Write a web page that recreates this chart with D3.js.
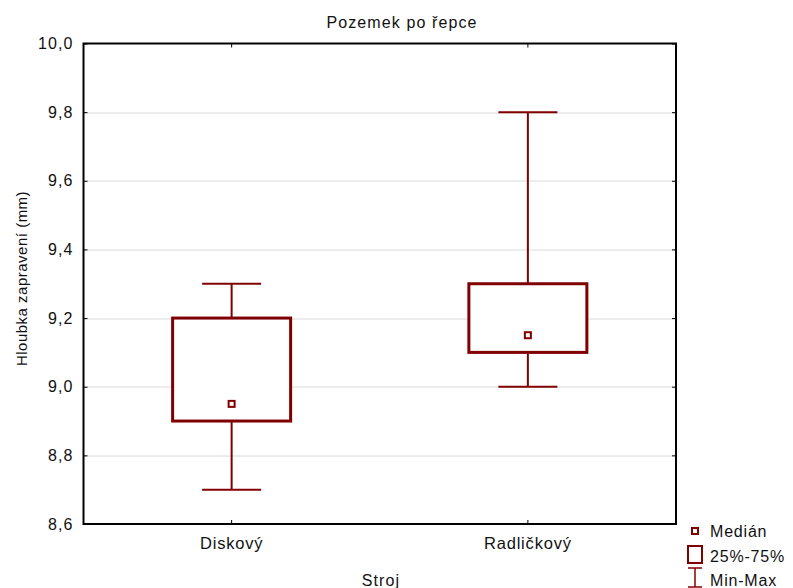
<!DOCTYPE html>
<html>
<head>
<meta charset="utf-8" />
<title>Pozemek po řepce</title>
<script src="https://d3js.org/d3.v7.min.js"></script>
<style>
body { margin: 0; padding: 0; background: #fff; }
svg text { font-family: "Liberation Sans", Arial, sans-serif; fill: #111; }
</style>
</head>
<body>
<div id="chart"></div>
<script>
// data
var categories = ["Diskový", "Radličkový"];
var mins    = [8.7, 9.0];
var q1s     = [8.9, 9.1];
var medians = [8.95, 9.15];
var q3s     = [9.2, 9.3];
var maxs    = [9.3, 9.8];
var yTicks  = [8.6, 8.8, 9.0, 9.2, 9.4, 9.6, 9.8, 10.0];
var legendLabels = ["Medián", "25%-75%", "Min-Max"];

var W = 793, H = 588;
var margin = {top: 43.5, right: 117, bottom: 64, left: 83.5};
var width = W - margin.left - margin.right,
    height = H - margin.top - margin.bottom;
var red = "#800000";

var svg = d3.select("#chart").append("svg")
    .attr("width", W).attr("height", H);

var g = svg.append("g")
    .attr("transform", "translate(" + margin.left + "," + margin.top + ")");

var x = d3.scaleBand().domain(categories).range([0, width]);
var y = d3.scaleLinear().domain([8.6, 10.0]).range([height, 0]);

var fmt = function(d) { return d3.format(".1f")(d).replace(".", ","); };

// grid
g.selectAll(".grid")
  .data(yTicks.slice(1, -1))
  .enter().append("line")
    .attr("x1", 0).attr("x2", width)
    .attr("y1", function(d) { return Math.round(y(d)) + 0.5; })
    .attr("y2", function(d) { return Math.round(y(d)) + 0.5; })
    .attr("stroke", "#dadada").attr("stroke-width", 1);

// axes
var yAxis = g.append("g")
    .call(d3.axisLeft(y).tickValues(yTicks).tickFormat(fmt).tickSizeInner(-4).tickSizeOuter(0).tickPadding(10));
yAxis.select(".domain").remove();
yAxis.selectAll("text").style("font-size", "16px").style("letter-spacing", "1.1px");
yAxis.selectAll("line").attr("stroke", "#000");

var yAxisR = g.append("g").attr("transform", "translate(" + width + ",0)")
    .call(d3.axisRight(y).tickValues(yTicks).tickFormat("").tickSizeInner(-4).tickSizeOuter(0));
yAxisR.select(".domain").remove();

var xAxis = g.append("g").attr("transform", "translate(0," + height + ")")
    .call(d3.axisBottom(x).tickSizeInner(-4).tickSizeOuter(0).tickPadding(13));
xAxis.select(".domain").remove();
xAxis.selectAll("text").style("font-size", "16.5px").style("letter-spacing", "0.8px");

var xAxisT = g.append("g")
    .call(d3.axisTop(x).tickFormat("").tickSizeInner(-4).tickSizeOuter(0));
xAxisT.select(".domain").remove();

// frame
g.append("rect")
    .attr("x", 0).attr("y", 0).attr("width", width).attr("height", height)
    .attr("fill", "none").attr("stroke", "#000").attr("stroke-width", 2);

// boxes
var boxW = 118, capW = 59;
var boxes = g.selectAll(".box")
  .data(categories)
  .enter().append("g")
    .attr("transform", function(d) { return "translate(" + (x(d) + x.bandwidth() / 2) + ",0)"; });

boxes.append("line")
    .attr("x1", 0).attr("x2", 0)
    .attr("y1", function(d, i) { return y(maxs[i]); })
    .attr("y2", function(d, i) { return y(q3s[i]); })
    .attr("stroke", red).attr("stroke-width", 2);
boxes.append("line")
    .attr("x1", 0).attr("x2", 0)
    .attr("y1", function(d, i) { return y(q1s[i]); })
    .attr("y2", function(d, i) { return y(mins[i]); })
    .attr("stroke", red).attr("stroke-width", 2);
boxes.append("line")
    .attr("x1", -capW / 2).attr("x2", capW / 2)
    .attr("y1", function(d, i) { return y(maxs[i]); })
    .attr("y2", function(d, i) { return y(maxs[i]); })
    .attr("stroke", red).attr("stroke-width", 2);
boxes.append("line")
    .attr("x1", -capW / 2).attr("x2", capW / 2)
    .attr("y1", function(d, i) { return y(mins[i]); })
    .attr("y2", function(d, i) { return y(mins[i]); })
    .attr("stroke", red).attr("stroke-width", 2);
boxes.append("rect")
    .attr("x", -boxW / 2).attr("width", boxW)
    .attr("y", function(d, i) { return y(q3s[i]); })
    .attr("height", function(d, i) { return y(q1s[i]) - y(q3s[i]); })
    .attr("fill", "#fff").attr("stroke", red).attr("stroke-width", 3);
boxes.append("rect")
    .attr("x", -3).attr("width", 6)
    .attr("y", function(d, i) { return y(medians[i]) - 3; })
    .attr("height", 6)
    .attr("fill", "#fff").attr("stroke", red).attr("stroke-width", 2);

// title and axis labels
svg.append("text")
    .attr("x", 402).attr("y", 28)
    .attr("text-anchor", "middle").style("font-size", "16px").style("letter-spacing", "1.1px")
    .text("Pozemek po řepce");
svg.append("text")
    .attr("x", 381).attr("y", 586)
    .attr("text-anchor", "middle").style("font-size", "16px").style("letter-spacing", "1.1px")
    .text("Stroj");
svg.append("text")
    .attr("transform", "translate(26.5,278.5) rotate(-90)")
    .attr("text-anchor", "middle").style("font-size", "15px").style("letter-spacing", "0.5px")
    .text("Hloubka zapravení (mm)");

// legend
var leg = svg.append("g").attr("transform", "translate(695,0)");
leg.append("rect").attr("x", -3).attr("y", 528).attr("width", 6).attr("height", 6)
    .attr("fill", "#fff").attr("stroke", red).attr("stroke-width", 2);
leg.append("rect").attr("x", -7).attr("y", 546).attr("width", 14).attr("height", 17)
    .attr("fill", "#fff").attr("stroke", red).attr("stroke-width", 2);
leg.append("line").attr("x1", 0).attr("x2", 0).attr("y1", 568).attr("y2", 587)
    .attr("stroke", red).attr("stroke-width", 1.5);
leg.append("line").attr("x1", -7).attr("x2", 7).attr("y1", 568).attr("y2", 568)
    .attr("stroke", red).attr("stroke-width", 1.5);
leg.append("line").attr("x1", -7).attr("x2", 7).attr("y1", 587).attr("y2", 587)
    .attr("stroke", red).attr("stroke-width", 1.5);
leg.selectAll(".lab")
  .data(legendLabels)
  .enter().append("text")
    .attr("x", 15)
    .attr("y", function(d, i) { return 537 + i * 24.5; })
    .style("font-size", "16px").style("letter-spacing", "0.8px")
    .text(function(d) { return d; });
</script>
</body>
</html>
